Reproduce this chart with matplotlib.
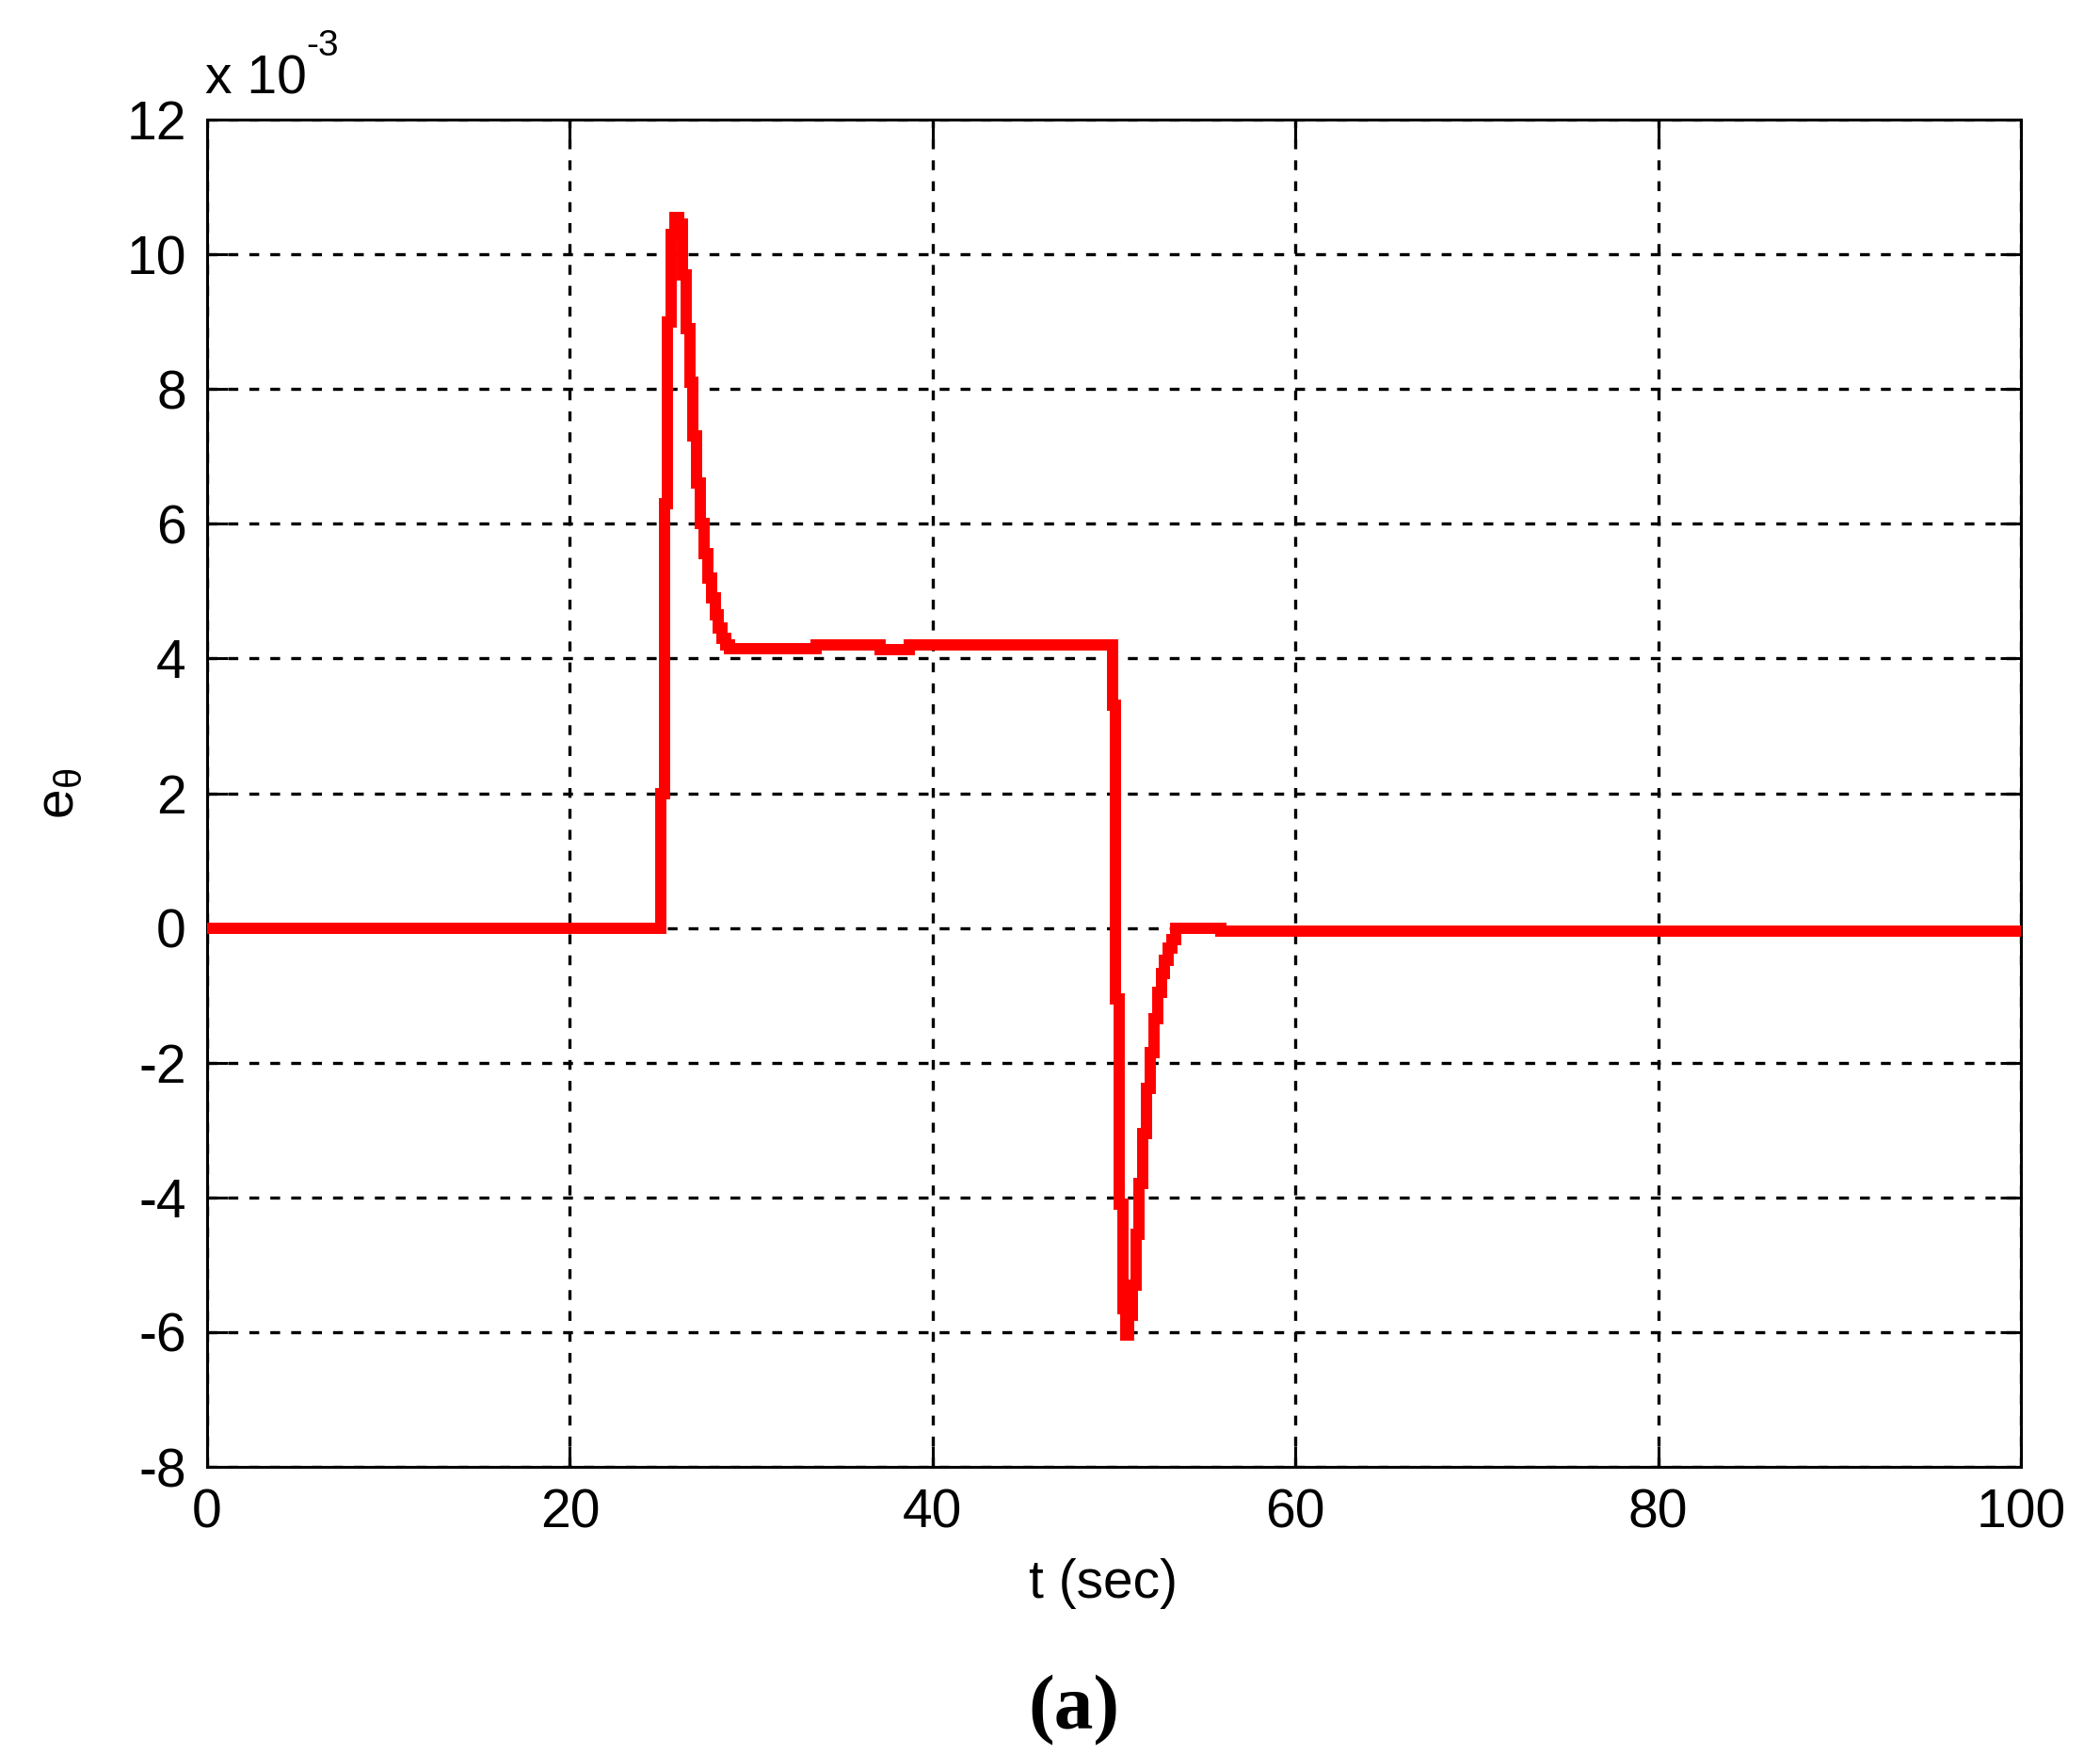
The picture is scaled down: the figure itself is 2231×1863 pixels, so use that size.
import numpy as np
import matplotlib
matplotlib.use('Agg')
import matplotlib.pyplot as plt

plt.rcParams['font.family'] = ['Liberation Sans', 'DejaVu Sans']
plt.rcParams['mathtext.fontset'] = 'custom'
plt.rcParams['mathtext.rm'] = 'Liberation Sans'
plt.rcParams['mathtext.it'] = 'Liberation Sans'
plt.rcParams['lines.scale_dashes'] = False
plt.rcParams['axes.unicode_minus'] = False

# step breakpoints of e_theta, values in units of 1e-3 (held until next time)
t_steps = [0.0, 25.0, 25.2, 25.4, 25.6, 25.8, 26.0, 26.2, 26.4, 26.6, 26.8,
           27.0, 27.2, 27.4, 27.6, 27.8, 28.0, 28.2, 28.4, 28.6, 28.8,
           33.6, 37.1, 38.7, 49.9, 50.1, 50.3, 50.5, 50.65, 50.8,
           51.0, 51.2, 51.4, 51.6, 51.8, 52.0, 52.2, 52.4, 52.6, 52.8,
           53.0, 53.2, 53.4, 55.9, 100.0]
e_theta = [0.0, 2.0, 6.3, 9.0, 10.3, 10.55, 10.45, 9.7, 8.9, 8.1, 7.3,
           6.6, 6.0, 5.55, 5.2, 4.9, 4.65, 4.45, 4.3, 4.2, 4.15,
           4.2, 4.13, 4.2, 3.3, -1.05, -4.1, -5.65, -6.05, -5.75,
           -5.3, -4.55, -3.8, -3.05, -2.38, -1.85, -1.35, -0.95, -0.68, -0.48,
           -0.3, -0.17, 0.0, -0.05, -0.05]

x_ticks = [0, 20, 40, 60, 80, 100]
y_ticks = [-8, -6, -4, -2, 0, 2, 4, 6, 8, 10, 12]

W, H = 2231, 1863
fig = plt.figure(figsize=(W / 100, H / 100), dpi=100)
ax = fig.add_axes([220 / W, 1 - 1558 / H, (2147 - 220) / W, (1558 - 127) / H])

ax.plot(t_steps, e_theta, drawstyle='steps-post', color='#ff0000', lw=8.6,
        solid_joinstyle='miter', solid_capstyle='butt', zorder=3)

ax.set_xlim(0, 100)
ax.set_ylim(-8, 12)
ax.set_xticks(x_ticks)
ax.set_yticks(y_ticks)
ax.grid(True, color='k', linestyle=(0, (7.5, 8.5)), linewidth=2.4)
ax.tick_params(direction='in', length=16, width=2.2, top=True, right=True,
               labelsize=41, pad=16)
for s in ax.spines.values():
    s.set_linewidth(2.2)

# MATLAB style exponent above the axes
fig.text(218 / W, 1 - 100 / H, 'x 10', fontsize=41, ha='left', va='baseline')
fig.text(325 / W, 1 - 59 / H, '-3', fontsize=28, ha='left', va='baseline')

fig.text(1172 / W, 1 - 1697 / H, 't (sec)', fontsize=41, ha='center', va='baseline')
fig.text(63 / W, 1 - 843 / H, r'$\mathregular{e_{\theta}}$', fontsize=41,
         rotation=90, ha='center', va='center')

fig.text(1141 / W, 1 - 1817 / H, '(a)', fontsize=60, ha='center', va='center',
         family=['Liberation Serif', 'DejaVu Serif'], fontweight='bold')

fig.savefig('out.png', dpi=100)
